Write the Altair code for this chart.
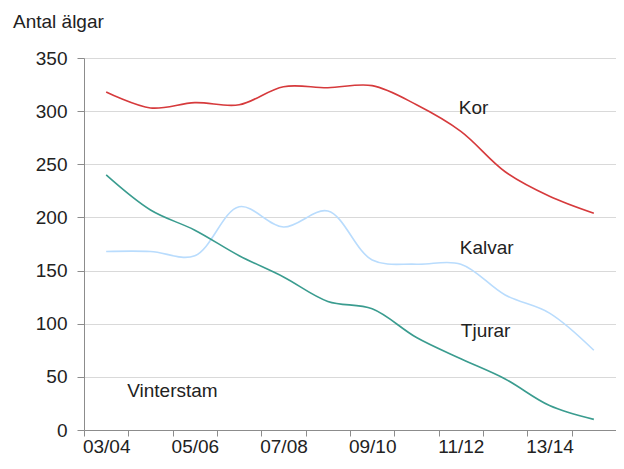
import altair as alt
import pandas as pd

seasons = ["03/04", "04/05", "05/06", "06/07", "07/08", "08/09",
           "09/10", "10/11", "11/12", "12/13", "13/14", "14/15"]
shown_labels = ["03/04", "05/06", "07/08", "09/10", "11/12", "13/14"]

kor = [318, 303, 308, 306, 323, 322, 324, 306, 281, 243, 220, 204]
kalvar = [168, 168, 164, 210, 191, 206, 160, 156, 156, 127, 110, 75]
tjurar = [240, 207, 188, 164, 144, 121, 114, 87, 67, 48, 23, 10]

series_names = ["Kor", "Kalvar", "Tjurar"]
series_colors = ["#d63a3c", "#b9dcfd", "#3a9c8f"]

label_text = ["Kor", "Kalvar", "Tjurar", "Vinterstam"]
label_season = ["11/12", "11/12", "11/12", "03/04"]
label_value = [302.5, 171, 93, 37]
label_dx = [-2, -1, 0, 21]

rows = []
for name, vals in zip(series_names, [kor, kalvar, tjurar]):
    for s, v in zip(seasons, vals):
        rows.append({"season": s, "value": v, "series": name})
df = pd.DataFrame(rows)

labels = pd.DataFrame({"text": label_text, "season": label_season,
                       "value": label_value, "dx": label_dx})

FONT = "Liberation Sans"
TXT = "#222222"

label_expr = "indexof(" + str(shown_labels) + ", datum.value) >= 0 ? datum.value : ''"

x_enc = alt.X("season:N", sort=seasons,
              scale=alt.Scale(type="band", paddingInner=0, paddingOuter=0, domain=seasons),
              bandPosition=0.5,
              axis=alt.Axis(title=None, labelExpr=label_expr, tickBand="extent",
                            labelAngle=0, grid=False, domainColor="#8c8c8c",
                            tickColor="#8c8c8c", tickSize=6, labelPadding=1,
                            labelFontSize=19, labelFont=FONT, labelColor=TXT,
                            labelOverlap=False, labelBound=False, labelFlush=False))
y_enc = alt.Y("value:Q",
              scale=alt.Scale(domain=[0, 350], nice=False),
              axis=alt.Axis(title=None, values=[0, 50, 100, 150, 200, 250, 300, 350],
                            grid=True, gridColor="#d9d9d9", domainColor="#8c8c8c",
                            tickColor="#8c8c8c", tickSize=7, labelPadding=10,
                            labelFontSize=19, labelFont=FONT, labelColor=TXT))

lines = alt.Chart(df).mark_line(interpolate="catmull-rom", strokeWidth=1.6).encode(
    x=x_enc,
    y=y_enc,
    color=alt.Color("series:N", scale=alt.Scale(domain=series_names, range=series_colors),
                    legend=None),
    detail="series:N",
)

text_layers = []
for t, d in zip(label_text, label_dx):
    sub = labels[labels["text"] == t]
    text_layers.append(
        alt.Chart(sub).mark_text(align="left", baseline="middle", fontSize=19,
                                 font=FONT, color=TXT, dx=d).encode(
            x=alt.X("season:N", sort=seasons, bandPosition=0.5),
            y="value:Q",
            text="text:N",
        )
    )

chart = alt.layer(lines, *text_layers).properties(
    width=532, height=372,
    title=alt.TitleParams("Antal älgar", anchor="start", frame="group",
                          fontSize=19, font=FONT, fontWeight="normal", color=TXT,
                          dx=-71, offset=17),
    padding={"left": 76, "top": 50, "right": 0, "bottom": 27},
    autosize=alt.AutoSizeParams(type="none"),
).configure_view(stroke=None).configure(background="white")

chart.save("out.html", embed_options={"renderer": "svg", "actions": False})
